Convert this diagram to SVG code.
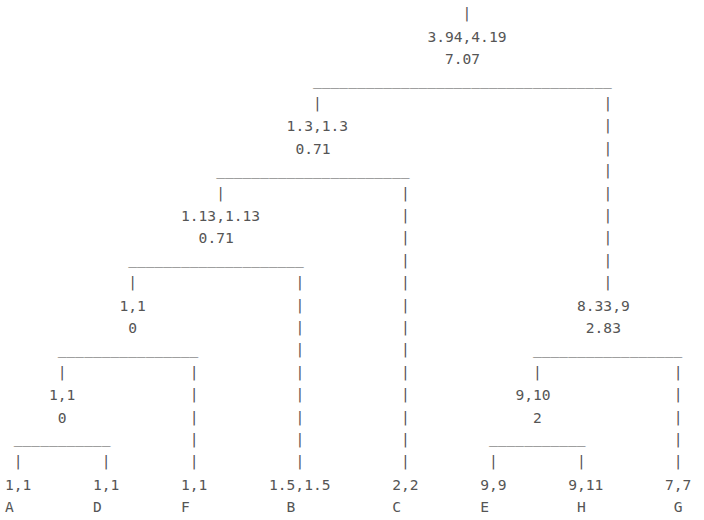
<svg xmlns="http://www.w3.org/2000/svg" width="704" height="520" viewBox="0 0 704 520">
<style>
text{font-family:"DejaVu Sans Mono","Liberation Mono",monospace;font-size:14.6px;fill:#555555}
</style>
<rect width="704" height="520" fill="#ffffff"/>
<g id="connectors">
<g id="underscores" transform="translate(0,-1.5)">
<text x="313" y="86.5">__________________________________</text>
<text x="216.2" y="176.1">______________________</text>
<text x="128.2" y="265.7">____________________</text>
<text x="57.8" y="355.3">________________</text>
<text x="13.8" y="444.9">___________</text>
<text x="533" y="355.3">_________________</text>
<text x="489" y="444.9">___________</text>
</g>
<g id="bars" transform="translate(0,-1)">
<text x="462.6" y="19.3">|</text>
<text x="313" y="108.9">|</text>
<text x="603.4" y="108.9">|</text><text x="603.4" y="131.3">|</text><text x="603.4" y="153.7">|</text><text x="603.4" y="176.1">|</text><text x="603.4" y="198.5">|</text><text x="603.4" y="220.9">|</text><text x="603.4" y="243.3">|</text><text x="603.4" y="265.7">|</text><text x="603.4" y="288.1">|</text>
<text x="216.2" y="198.5">|</text>
<text x="401" y="198.5">|</text><text x="401" y="220.9">|</text><text x="401" y="243.3">|</text><text x="401" y="265.7">|</text><text x="401" y="288.1">|</text><text x="401" y="310.5">|</text><text x="401" y="332.9">|</text><text x="401" y="355.3">|</text><text x="401" y="377.7">|</text><text x="401" y="400.1">|</text><text x="401" y="422.5">|</text><text x="401" y="444.9">|</text><text x="401" y="467.3">|</text>
<text x="128.2" y="288.1">|</text>
<text x="295.4" y="288.1">|</text><text x="295.4" y="310.5">|</text><text x="295.4" y="332.9">|</text><text x="295.4" y="355.3">|</text><text x="295.4" y="377.7">|</text><text x="295.4" y="400.1">|</text><text x="295.4" y="422.5">|</text><text x="295.4" y="444.9">|</text><text x="295.4" y="467.3">|</text>
<text x="57.8" y="377.7">|</text>
<text x="189.8" y="377.7">|</text><text x="189.8" y="400.1">|</text><text x="189.8" y="422.5">|</text><text x="189.8" y="444.9">|</text><text x="189.8" y="467.3">|</text>
<text x="13.8" y="467.3">|</text>
<text x="101.8" y="467.3">|</text>
<text x="533" y="377.7">|</text>
<text x="673.8" y="377.7">|</text><text x="673.8" y="400.1">|</text><text x="673.8" y="422.5">|</text><text x="673.8" y="444.9">|</text><text x="673.8" y="467.3">|</text>
<text x="489" y="467.3">|</text>
<text x="577" y="467.3">|</text>
</g>
</g>
<g id="node-root"><text x="427.4" y="41.7">3.94,4.19</text><text x="445" y="64.1">7.07</text></g>
<g id="node-1"><text x="286.6" y="131.3">1.3,1.3</text><text x="295.4" y="153.7">0.71</text></g>
<g id="node-2"><text x="181" y="220.9">1.13,1.13</text><text x="198.6" y="243.3">0.71</text></g>
<g id="node-3"><text x="119.4" y="310.5">1,1</text><text x="128.2" y="332.9">0</text></g>
<g id="node-4"><text x="49" y="400.1">1,1</text><text x="57.8" y="422.5">0</text></g>
<g id="node-5"><text x="577" y="310.5">8.33,9</text><text x="585.8" y="332.9">2.83</text></g>
<g id="node-6"><text x="515.4" y="400.1">9,10</text><text x="533" y="422.5">2</text></g>
<g id="leaf-A"><text x="5" y="489.7">1,1</text><text x="5" y="512.1">A</text></g>
<g id="leaf-D"><text x="93" y="489.7">1,1</text><text x="93" y="512.1">D</text></g>
<g id="leaf-F"><text x="181" y="489.7">1,1</text><text x="181" y="512.1">F</text></g>
<g id="leaf-B"><text x="269" y="489.7">1.5,1.5</text><text x="286.6" y="512.1">B</text></g>
<g id="leaf-C"><text x="392.2" y="489.7">2,2</text><text x="392.2" y="512.1">C</text></g>
<g id="leaf-E"><text x="480.2" y="489.7">9,9</text><text x="480.2" y="512.1">E</text></g>
<g id="leaf-H"><text x="568.2" y="489.7">9,11</text><text x="577" y="512.1">H</text></g>
<g id="leaf-G"><text x="665" y="489.7">7,7</text><text x="673.8" y="512.1">G</text></g>
</svg>
